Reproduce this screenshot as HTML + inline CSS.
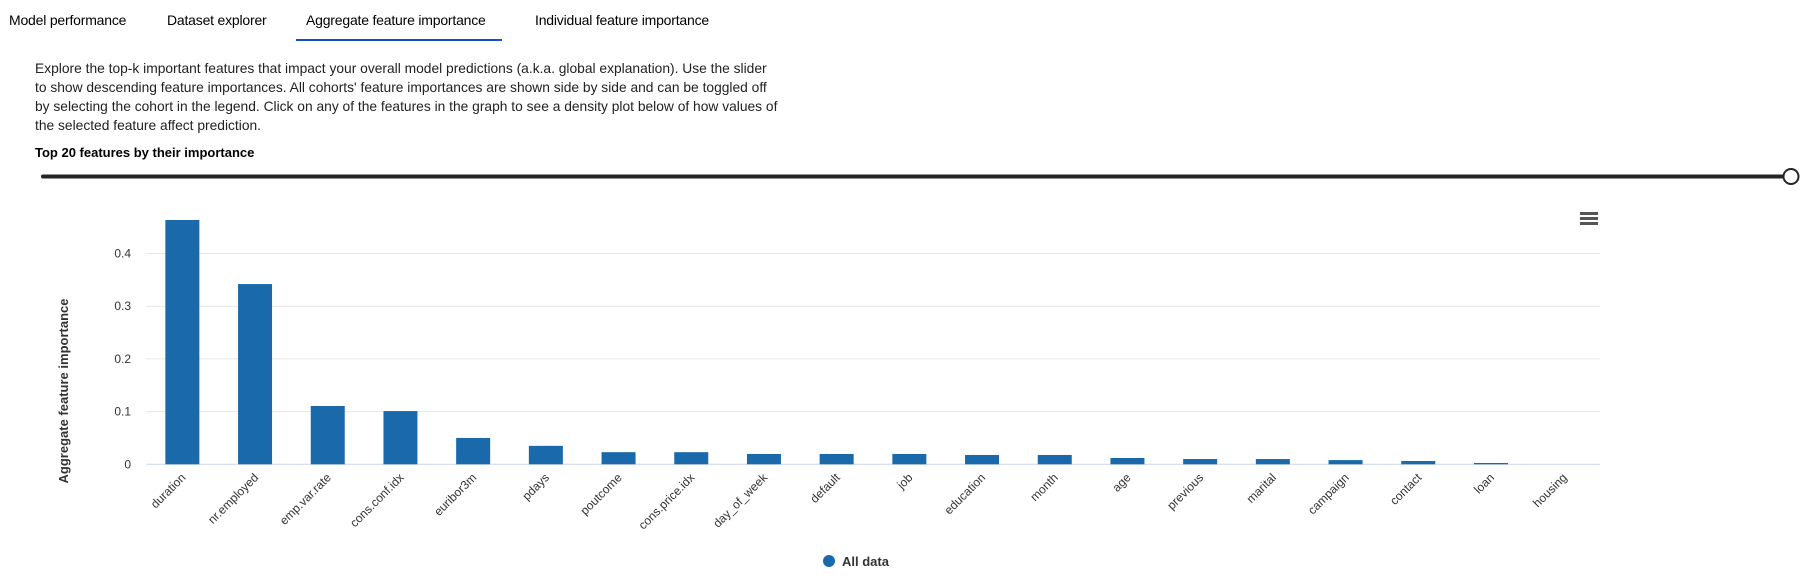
<!DOCTYPE html>
<html><head><meta charset="utf-8">
<style>
body{margin:0;width:1808px;height:584px;background:#fff;font-family:"Liberation Sans",sans-serif;color:#000;position:relative;overflow:hidden}
.tab{position:absolute;top:12px;font-size:14px;white-space:nowrap;letter-spacing:-0.2px}
#desc{position:absolute;left:35px;top:59px;width:820px;font-size:13.8px;line-height:19px;color:#222;white-space:nowrap}
#topk{position:absolute;left:35px;top:145px;font-size:13px;font-weight:bold}
svg{position:absolute;left:0;top:0}
</style></head><body>
<div class="tab" style="left:9px">Model performance</div>
<div class="tab" style="left:167px">Dataset explorer</div>
<div class="tab" style="left:306px">Aggregate feature importance</div>
<div class="tab" style="left:535px">Individual feature importance</div>
<div style="position:absolute;left:296px;top:39px;width:206px;height:2px;background:#1450c0"></div>
<div id="desc">Explore the top-k important features that impact your overall model predictions (a.k.a. global explanation). Use the slider<br>to show descending feature importances. All cohorts' feature importances are shown side by side and can be toggled off<br>by selecting the cohort in the legend. Click on any of the features in the graph to see a density plot below of how values of<br>the selected feature affect prediction.</div>
<div id="topk">Top 20 features by their importance</div>
<svg width="1808" height="584" id="chart">
<line x1="43" y1="176.5" x2="1783" y2="176.5" stroke="#252525" stroke-width="4" stroke-linecap="round"/>
<circle cx="1791" cy="176.5" r="7.5" fill="#fff" stroke="#252525" stroke-width="2"/>
<g fill="#555">
<rect x="1580" y="212" width="18" height="3"/><rect x="1580" y="217" width="18" height="3"/><rect x="1580" y="222" width="18" height="3"/></g>
<text transform="translate(68,391) rotate(-90)" text-anchor="middle" font-size="13" font-weight="bold" fill="#333">Aggregate feature importance</text>
<g id="grid"></g><g id="bars"></g><g id="xl"></g>
<circle cx="829" cy="561" r="6" fill="#1a6aab"/>
<text x="842" y="566" font-size="13" font-weight="bold" fill="#333">All data</text>
</svg>
<script>
const categories=["duration","nr.employed","emp.var.rate","cons.conf.idx","euribor3m","pdays","poutcome","cons.price.idx","day_of_week","default","job","education","month","age","previous","marital","campaign","contact","loan","housing"];
const values=[0.4636,0.342,0.1106,0.101,0.05,0.035,0.023,0.023,0.0196,0.0196,0.0196,0.0177,0.0177,0.012,0.010,0.010,0.008,0.0063,0.0025,0];
const yTicks=[0,0.1,0.2,0.3,0.4];
const yTickLabels=["0","0.1","0.2","0.3","0.4"];
const NS="http://www.w3.org/2000/svg";
const X0=146,X1=1600,Y0=464.3,PER=527;
const band=(X1-X0)/categories.length;
const y=v=>Y0-v*PER;
const xc=i=>X0+band*(i+0.5);
const g=document.getElementById('grid'),b=document.getElementById('bars'),xl=document.getElementById('xl');
function mk(tag,attrs,parent){const e=document.createElementNS(NS,tag);for(const k in attrs)e.setAttribute(k,attrs[k]);parent.appendChild(e);return e;}
yTicks.forEach((t,i)=>{
  const l=mk('line',{x1:X0,x2:X1,y1:y(t),y2:y(t),stroke:t===0?'#ccd6eb':'#e6e6e6','stroke-width':1},g);
  
  
  const tx=mk('text',{x:131,y:y(t)+4,'text-anchor':'end','font-size':12,fill:'#333'},g);
  tx.textContent=yTickLabels[i];
  
  
});
categories.forEach((c,i)=>{
  const w=34;
  const r=mk('rect',{x:xc(i)-w/2,y:y(values[i]),width:w,height:Math.max(0,Y0-y(values[i])),fill:'#1a6aab'},b);
  
  
  const t=mk('text',{transform:`translate(${xc(i)+4},${Y0+14}) rotate(-45)`,'text-anchor':'end','font-size':12,fill:'#333'},xl);
  t.textContent=c;
  
  
});
</script>
</body></html>
